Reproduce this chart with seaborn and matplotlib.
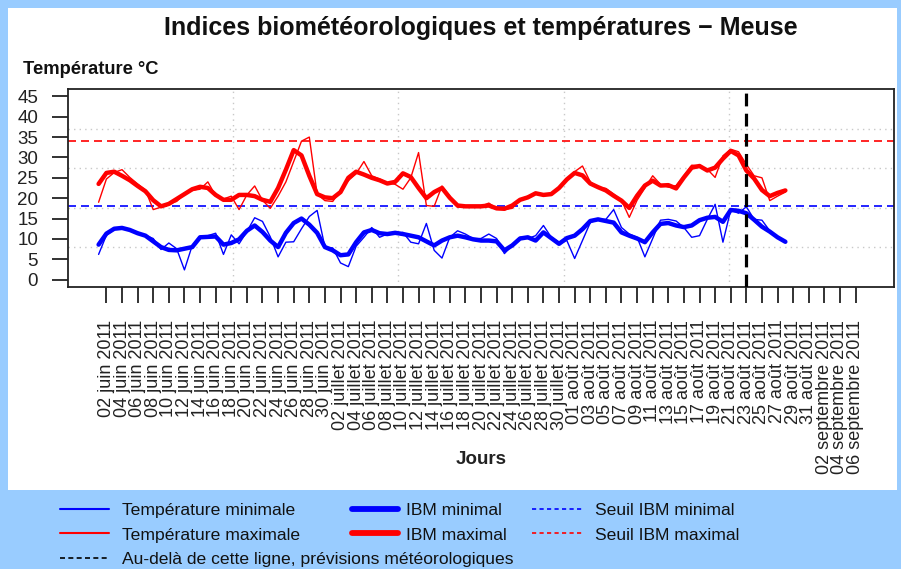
import numpy as np
import pandas as pd
import matplotlib
matplotlib.use("Agg")
import matplotlib.pyplot as plt
import matplotlib.dates as mdates
import seaborn as sns
from matplotlib.lines import Line2D
from matplotlib.patches import Rectangle

# -----------------------------
# Data, one value per day from 01 juin 2011
# -----------------------------

start_date = "2011-06-01"

tmin = [6.2, 10.9, 12.3, 12.8, 12.4, 11.6, 10.9, 10.1, 7.4, 9.0,
        7.6, 2.4, 8.4, 10.6, 10.8, 11.4, 6.2, 11.0, 8.8, 11.8,
        15.2, 14.3, 10.5, 5.6, 9.2, 9.3, 12.5, 15.5, 17.0, 8.0,
        7.8, 4.1, 3.2, 8.2, 10.4, 12.8, 10.4, 11.2, 11.2, 11.6,
        9.2, 8.8, 13.8, 7.2, 5.3, 10.4, 12.0, 11.2, 10.1, 10.1,
        11.2, 10.1, 6.4, 8.4, 10.4, 10.1, 10.8, 13.3, 10.4, 9.2,
        9.6, 5.2, 9.6, 14.0, 14.8, 14.8, 17.2, 12.8, 11.2, 10.4,
        5.6, 10.1, 14.6, 14.8, 14.4, 12.8, 10.4, 10.8, 14.8, 18.5,
        9.2, 17.1, 16.3, 17.9, 14.8, 14.6, 12.0, 10.4, 9.2]

tmax = [19.0, 24.7, 26.3, 27.0, 25.1, 23.5, 22.0, 17.2, 17.8, 18.6,
        19.2, 21.0, 21.9, 22.2, 24.0, 20.6, 19.8, 20.5, 17.2, 20.8,
        23.0, 19.5, 17.5, 20.5, 24.0, 29.0, 34.0, 35.0, 21.0, 19.4,
        19.2, 21.9, 24.3, 26.0, 29.0, 25.5, 24.7, 23.8, 23.4, 22.2,
        25.0, 31.2, 18.2, 18.0, 23.0, 20.5, 17.8, 17.8, 18.0, 18.0,
        18.8, 17.5, 17.2, 17.5, 19.6, 20.5, 21.0, 21.0, 21.2, 22.4,
        24.5, 26.5, 27.9, 24.0, 22.7, 22.4, 21.0, 19.5, 15.3, 19.5,
        22.5, 25.5, 23.4, 22.7, 23.1, 25.5, 28.1, 28.0, 27.1, 25.1,
        30.4, 32.0, 31.4, 28.3, 25.5, 25.0, 19.4, 20.5, 21.5]

ibm_min = [8.6, 11.3, 12.5, 12.7, 12.2, 11.4, 10.8, 9.4, 8.0, 7.3,
           7.2, 7.6, 8.0, 10.4, 10.5, 10.6, 8.6, 9.0, 9.9, 12.0,
           13.3, 11.7, 9.6, 8.0, 11.5, 13.9, 15.0, 13.5, 11.5, 8.0,
           7.2, 6.0, 6.2, 9.2, 11.6, 12.2, 11.4, 11.2, 11.5, 11.2,
           10.8, 10.4, 9.4, 8.4, 9.6, 10.4, 10.8, 10.4, 9.9, 9.6,
           9.6, 9.4, 7.2, 8.4, 10.1, 10.4, 9.6, 11.6, 10.2, 8.8,
           10.2, 10.8, 12.4, 14.4, 14.8, 14.4, 14.0, 11.6, 10.8, 10.1,
           9.2, 11.6, 13.7, 13.9, 13.3, 12.9, 13.3, 14.6, 15.2, 15.4,
           14.2, 17.1, 16.9, 16.3, 14.7, 13.0, 11.8, 10.4, 9.3]

ibm_max = [23.5, 26.2, 26.5, 25.5, 24.4, 23.0, 21.7, 19.5, 18.0, 18.6,
           19.8, 21.0, 22.2, 22.8, 22.5, 20.8, 19.6, 19.6, 20.8, 20.8,
           20.5, 19.6, 19.1, 22.5, 27.0, 31.8, 30.5, 25.5, 21.0, 20.2,
           20.0, 21.5, 25.0, 26.5, 25.8, 25.0, 24.4, 23.6, 24.0, 26.1,
           25.2, 22.5, 20.0, 21.5, 22.5, 20.1, 18.2, 18.0, 18.0, 18.0,
           18.2, 17.5, 17.4, 18.2, 19.6, 20.2, 21.2, 20.8, 21.0, 22.5,
           24.6, 26.2, 25.6, 23.6, 22.7, 21.9, 20.6, 19.4, 17.6, 20.6,
           23.1, 24.3, 23.1, 23.2, 22.4, 25.1, 27.5, 27.9, 26.8, 27.5,
           29.7, 31.6, 30.5, 26.8, 24.8, 22.0, 20.5, 21.3, 21.9]

seuil_min = 18
seuil_max = 34
forecast_start = "2011-08-23"
last_day = "2011-09-07"

tick_first = "2011-06-02"
tick_last = "2011-09-06"
month_names = {6: "juin", 7: "juillet", 8: "août", 9: "septembre"}

# -----------------------------
# Build dataframe
# -----------------------------

dates = pd.date_range(start=start_date, periods=len(tmin))
df = pd.DataFrame({
    "Date": dates,
    "Tmin": tmin,
    "Tmax": tmax,
    "IBMmin": ibm_min,
    "IBMmax": ibm_max,
})

tick_dates = pd.date_range(tick_first, tick_last, freq="2D")
tick_labels = [f"{d.day:02d} {month_names[d.month]} {d.year}" for d in tick_dates]

# -----------------------------
# Figure
# -----------------------------

sns.set_theme(style="white")
plt.rcParams["font.family"] = ["Liberation Sans", "DejaVu Sans"]

W, H = 901, 569
fig = plt.figure(figsize=(W / 100, H / 100), dpi=100, facecolor="#99CCFF")
fig.add_artist(Rectangle((8 / W, 1 - 490 / H), 889 / W, 482 / H,
                         transform=fig.transFigure, facecolor="white",
                         edgecolor="none", zorder=0))

ax = fig.add_axes([68 / W, 1 - 287 / H, 826 / W, 198 / H])
ax.set_facecolor("white")

# axis limits (R style, 4% extension)
d0 = pd.Timestamp(start_date)
span = (pd.Timestamp(last_day) - d0).days
x_lo = mdates.date2num(d0) - 0.04 * span
x_hi = mdates.date2num(pd.Timestamp(last_day)) + 0.04 * span
y_lo, y_hi = -1.8, 46.8
ax.set_xlim(x_lo, x_hi)
ax.set_ylim(y_lo, y_hi)

# dotted grid dividing the region in 5
for k in range(1, 5):
    ax.axvline(x_lo + k * (x_hi - x_lo) / 5, color="#C8C8C8", lw=1,
               linestyle=(0, (1, 3)), zorder=1)
    ax.axhline(y_lo + k * (y_hi - y_lo) / 5, color="#C8C8C8", lw=1,
               linestyle=(0, (1, 3)), zorder=1)

# thresholds
ax.axhline(seuil_max, color="red", lw=1.2, linestyle=(0, (4.8, 3)), zorder=2)
ax.axhline(seuil_min, color="blue", lw=1.2, linestyle=(0, (4.8, 3)), zorder=2)

# temperature lines
sns.lineplot(data=df, x="Date", y="Tmin", ax=ax, color="blue", lw=1.0, zorder=3)
sns.lineplot(data=df, x="Date", y="Tmax", ax=ax, color="red", lw=1.0, zorder=3)
sns.lineplot(data=df, x="Date", y="IBMmin", ax=ax, color="blue", lw=3.2, zorder=4)
sns.lineplot(data=df, x="Date", y="IBMmax", ax=ax, color="red", lw=3.2, zorder=4)

# forecast limit
ax.axvline(pd.Timestamp(forecast_start), color="black", lw=2.3,
           linestyle=(0, (4, 2.3)), zorder=5)

# axes styling
for s in ax.spines.values():
    s.set_color("#222222")
    s.set_linewidth(1.3)

ax.set_xticks(tick_dates)
ax.set_xticklabels(tick_labels, rotation=90, fontsize=13, color="#222222")
ax.set_yticks(np.arange(0, 50, 5))
ax.set_yticklabels([str(v) for v in range(0, 50, 5)], fontsize=13.5, color="#222222")
ax.tick_params(axis="x", direction="out", length=11.5, width=1.3, color="#222222",
               pad=12, bottom=True)
ax.tick_params(axis="y", direction="out", length=11.5, width=1.3, color="#222222",
               pad=10, left=True)
ax.set_xlabel("")
ax.set_ylabel("")

# texts
fig.text(481 / W, 1 - 28 / H, "Indices biométéorologiques et températures \u2212 Meuse",
         ha="center", va="center", fontsize=18, fontweight="bold", color="#111111")
fig.text(23 / W, 1 - 70 / H, "Température °C", ha="left", va="center",
         fontsize=13.2, fontweight="bold", color="#111111")
fig.text(481 / W, 1 - 459 / H, "Jours", ha="center", va="center",
         fontsize=13.5, fontweight="bold", color="#222222")

# -----------------------------
# Legend in three columns
# -----------------------------

leg_fs = 12.6
col1 = [Line2D([], [], color="blue", lw=1.5),
        Line2D([], [], color="red", lw=1.5),
        Line2D([], [], color="black", lw=1.2, linestyle=(0, (3, 2)))]
col1_lab = ["Température minimale", "Température maximale",
            "Au-delà de cette ligne, prévisions météorologiques"]
col2 = [Line2D([], [], color="blue", lw=4.2),
        Line2D([], [], color="red", lw=4.2)]
col2_lab = ["IBM minimal", "IBM maximal"]
col3 = [Line2D([], [], color="blue", lw=1.2, linestyle=(0, (2.5, 2))),
        Line2D([], [], color="red", lw=1.2, linestyle=(0, (2.5, 2)))]
col3_lab = ["Seuil IBM minimal", "Seuil IBM maximal"]

for handles, labels, x0, hl, pad in [
    (col1, col1_lab, 60, 49, 13),
    (col2, col2_lab, 352, 46, 8),
    (col3, col3_lab, 532, 51, 12),
]:
    px_per_em = leg_fs * 100 / 72
    fig.legend(handles, labels, loc="upper left",
               bbox_to_anchor=(x0 / W, 1 - 503 / H), frameon=False,
               fontsize=leg_fs, borderpad=0, borderaxespad=0,
               handlelength=hl / px_per_em, handletextpad=pad / px_per_em,
               labelspacing=0.52, labelcolor="#111111")

fig.savefig("out.png", dpi=100, facecolor=fig.get_facecolor())
